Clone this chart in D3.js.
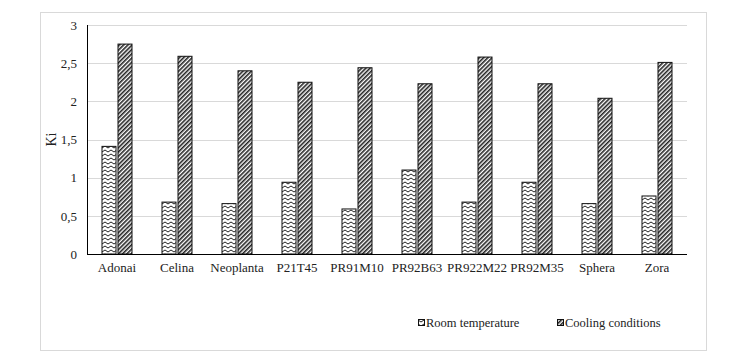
<!DOCTYPE html>
<html lang="en">
<head>
<meta charset="utf-8">
<title>Ki chart</title>
<script src="https://d3js.org/d3.v7.min.js"></script>
<style>
  body { margin: 0; background: #fff; }
  svg text { font-family: "Liberation Serif", "DejaVu Serif", serif !important; fill: #222; }
  .grid line { stroke: #d9d9d9; }
  .axis path, .axis line { stroke: #000; }
</style>
</head>
<body>
<script>
var categories = ['Adonai', 'Celina', 'Neoplanta', 'P21T45', 'PR91M10', 'PR92B63', 'PR922M22', 'PR92M35', 'Sphera', 'Zora'];
var seriesNames = ['Room temperature', 'Cooling conditions'];
var roomTemp = [1.41, 0.68, 0.66, 0.94, 0.59, 1.10, 0.68, 0.94, 0.66, 0.76];
var cooling = [2.75, 2.59, 2.40, 2.25, 2.44, 2.23, 2.58, 2.23, 2.04, 2.51];
var yTicks = [0, 0.5, 1, 1.5, 2, 2.5, 3];

var w = 745, h = 360;
var margin = {top: 25, right: 58, bottom: 106, left: 87};
var innerW = w - margin.left - margin.right;
var innerH = h - margin.top - margin.bottom;
var serif = '"Liberation Serif", "DejaVu Serif", serif';

var svg = d3.select('body').append('svg')
    .attr('width', w)
    .attr('height', h);

// chart frame
svg.append('rect')
    .attr('x', 40.5).attr('y', 12.5)
    .attr('width', 666).attr('height', 338)
    .attr('fill', '#fff')
    .attr('stroke', '#d9d9d9');

var defs = svg.append('defs');
// zigzag fill for room temperature
var zig = defs.append('pattern')
    .attr('id', 'zig')
    .attr('patternUnits', 'userSpaceOnUse')
    .attr('width', 6).attr('height', 4);
zig.append('rect').attr('width', 6).attr('height', 4).attr('fill', '#fff');
zig.append('path')
    .attr('d', 'M0,1 L3,3 L6,1')
    .attr('fill', 'none').attr('stroke', '#222').attr('stroke-width', 1);
// dense diagonal fill for cooling
var diag = defs.append('pattern')
    .attr('id', 'diag')
    .attr('patternUnits', 'userSpaceOnUse')
    .attr('width', 3).attr('height', 3)
    .attr('patternTransform', 'rotate(45)');
diag.append('rect').attr('width', 3).attr('height', 3).attr('fill', '#fff');
diag.append('rect').attr('width', 1.6).attr('height', 3).attr('fill', '#222');

var fills = ['url(#zig)', 'url(#diag)'];

var g = svg.append('g')
    .attr('transform', 'translate(' + [margin.left, margin.top] + ')');

var x = d3.scaleBand().domain(categories).range([0, innerW]);
var y = d3.scaleLinear().domain([0, 3]).range([innerH, 0]);
var barW = 14, gap = 3;

g.append('g')
    .attr('class', 'grid')
    .selectAll('line')
    .data(yTicks.slice(1))
  .enter().append('line')
    .attr('x1', 0).attr('x2', innerW)
    .attr('y1', function(d){ return Math.round(y(d)) + 0.5; })
    .attr('y2', function(d){ return Math.round(y(d)) + 0.5; });

var rows = categories.map(function(c, i) {
  return {name: c, values: [roomTemp[i], cooling[i]]};
});

var grp = g.selectAll('.grp')
    .data(rows)
  .enter().append('g')
    .attr('class', 'grp')
    .attr('transform', function(d){ return 'translate(' + (x(d.name) + x.bandwidth() / 2) + ',0)'; });

grp.selectAll('rect')
    .data(function(d){ return d.values; })
  .enter().append('rect')
    .attr('x', function(d, i){ return i === 0 ? -barW - gap / 2 + 0.5 : gap / 2 - 0.5; })
    .attr('y', function(d){ return y(d); })
    .attr('width', barW)
    .attr('height', function(d){ return innerH - y(d); })
    .attr('fill', function(d, i){ return fills[i]; })
    .attr('stroke', '#111')
    .attr('stroke-width', 1);

// y axis
var yAxis = g.append('g')
    .attr('class', 'axis')
    .call(d3.axisLeft(y).tickValues(yTicks).tickSize(0).tickPadding(10)
      .tickFormat(function(d){ return String(d).replace('.', ','); }));
yAxis.attr('font-family', serif);
yAxis.select('.domain').remove();
yAxis.selectAll('text').style('font-size', '13px').attr('fill', '#333');
g.append('line')
    .attr('x1', 0.5).attr('x2', 0.5)
    .attr('y1', 0).attr('y2', innerH)
    .attr('stroke', '#000');

// x axis
var xAxis = g.append('g')
    .attr('class', 'axis')
    .attr('transform', 'translate(0,' + innerH + ')')
    .call(d3.axisBottom(x).tickSize(0).tickPadding(9));
xAxis.attr('font-family', serif);
xAxis.select('.domain').attr('d', 'M0,0.5H' + innerW);
xAxis.selectAll('text').style('font-size', '13px').attr('fill', '#222');

svg.append('text')
    .attr('transform', 'translate(56,' + (margin.top + y(1.5)) + ') rotate(-90)')
    .attr('text-anchor', 'middle')
    .attr('font-family', serif)
    .style('font-size', '14px')
    .text('Ki');

// legend
var legendX = [418, 557];
var leg = svg.selectAll('.leg')
    .data(seriesNames)
  .enter().append('g')
    .attr('class', 'leg')
    .attr('transform', function(d, i){ return 'translate(' + legendX[i] + ',319)'; });
leg.append('rect')
    .attr('x', 0.5).attr('y', 0.5)
    .attr('width', 6).attr('height', 6)
    .attr('fill', function(d, i){ return fills[i]; })
    .attr('stroke', '#111');
leg.append('text')
    .attr('x', 8).attr('y', 7.5)
    .attr('font-family', serif)
    .style('font-size', '12.5px')
    .text(function(d){ return d; });
</script>
</body>
</html>
